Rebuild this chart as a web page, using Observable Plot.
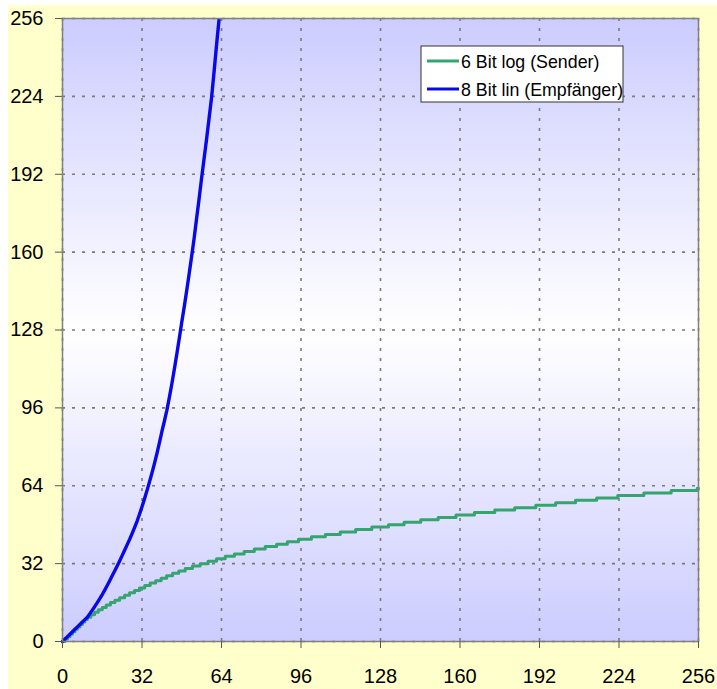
<!DOCTYPE html>
<html>
<head>
<meta charset="utf-8">
<script src="https://cdn.jsdelivr.net/npm/d3@7"></script>
<script src="https://cdn.jsdelivr.net/npm/@observablehq/plot@0.6"></script>
<style>
  html, body { margin: 0; padding: 0; background: #ffffff; }
  #chart { position: absolute; left: 8px; top: 5px; width: 709px; height: 684px; background: #FFFFCC; }
</style>
</head>
<body>
<div id="chart"></div>
<script>
// Tick values (both axes)
const tickValues = [0, 32, 64, 96, 128, 160, 192, 224, 256];

// Series names and colours
const seriesNames = ["6 Bit log (Sender)", "8 Bit lin (Empfänger)"];
const seriesColors = ["#35a46f", "#0808e8"];

// 8-bit input value at which each 6-bit code (index 0..63) begins
const codeStart8bit = [
  0, 1, 2, 3, 4, 5, 6, 7, 8, 9, 10,
  11.4, 12.9, 14.4, 16.0, 17.6, 19.3,
  21.1, 23.0, 25.0, 27.0, 29.0, 31.0, 33.1, 35.3, 37.5, 39.7, 41.9,
  44.3, 46.8, 49.4, 52.3, 55.4, 58.6, 62.0, 65.5, 69.2, 73.1, 77.2, 81.6, 86.2, 90.5, 95.0,
  100.2, 105.8, 111.8, 118.0, 124.5, 131.2, 137.5, 144.2, 151.2, 158.4, 165.8,
  174, 182, 190.5, 198.5, 206.5, 215, 223.5, 234, 245, 255.5
];
const xEnd = 256;

// Sender: 8-bit input -> 6-bit code (step function)
const senderData = codeStart8bit.map((x, code) => ({x, y: code}));
senderData.push({x: xEnd, y: codeStart8bit.length - 1});
// Empfänger: 6-bit code -> 8-bit value
const receiverData = codeStart8bit.map((v, code) => ({x: code, y: v}));

const chart = Plot.plot({
  width: 709,
  height: 684,
  marginLeft: 54,
  marginRight: 19,
  marginTop: 13,
  marginBottom: 48,
  x: {domain: [0, 256], label: null},
  y: {domain: [0, 256], label: null},
  style: {fontFamily: "'Liberation Sans', Arial, sans-serif", fontSize: "20px", background: "transparent", color: "#000"},
  marks: [
    Plot.frame({fill: "url(#bgGrad)"}),
    Plot.gridX(tickValues, {stroke: "#7a7a7a", strokeOpacity: 1, strokeWidth: 1.6, strokeDasharray: "3,7"}),
    Plot.gridY(tickValues, {stroke: "#7a7a7a", strokeOpacity: 1, strokeWidth: 1.6, strokeDasharray: "3,7"}),
    Plot.line(senderData, {x: "x", y: "y", curve: "step-after", stroke: seriesColors[0], strokeWidth: 3}),
    Plot.line(receiverData, {x: "x", y: "y", stroke: seriesColors[1], strokeWidth: 3.4}),
    Plot.frame({stroke: "#808080", strokeWidth: 1.5}),
    Plot.axisX(tickValues, {label: null, tickSize: 7, tickPadding: 20, stroke: "#555", fill: "#000"}),
    Plot.axisY(tickValues, {label: null, tickSize: 7, tickPadding: 12, stroke: "#555", fill: "#000"})
  ]
});

const svg = d3.select(chart);
svg.insert("defs", ":first-child").html(
  '<linearGradient id="bgGrad" x1="0" y1="0" x2="0" y2="1">' +
  '<stop offset="0" stop-color="#CCCCFF"/>' +
  '<stop offset="0.5" stop-color="#FFFFFF"/>' +
  '<stop offset="1" stop-color="#CCCCFF"/>' +
  '</linearGradient>'
);

// Legend
const lg = svg.append("g")
  .attr("font-family", "'Liberation Sans', Arial, sans-serif")
  .attr("font-size", 17.8)
  .attr("text-anchor", "start");
lg.append("rect").attr("x", 413).attr("y", 41).attr("width", 202).attr("height", 56)
  .attr("fill", "#fff").attr("stroke", "#333").attr("stroke-width", 1);
seriesNames.forEach((name, i) => {
  const cy = 56 + i * 28;
  lg.append("line").attr("x1", 419).attr("x2", 451).attr("y1", cy).attr("y2", cy)
    .attr("stroke", seriesColors[i]).attr("stroke-width", 3);
  lg.append("text").attr("x", 453).attr("y", cy + 6.5).attr("fill", "#000")
    .attr("text-anchor", "start").text(name);
});

document.getElementById("chart").appendChild(chart);
</script>
</body>
</html>
